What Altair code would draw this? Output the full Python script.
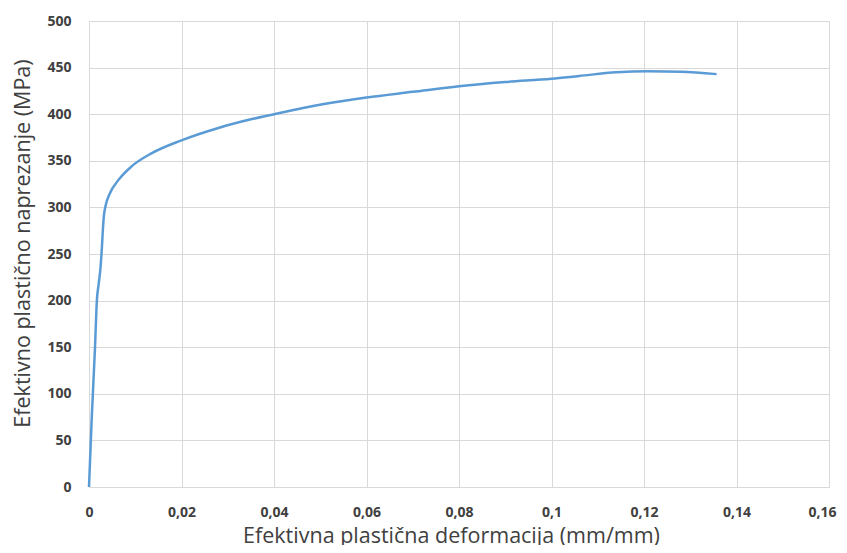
import altair as alt
import pandas as pd

strain = [0, 0.0006, 0.0013, 0.0017, 0.0021, 0.0025, 0.0028, 0.0030, 0.0032,
          0.0036, 0.0045, 0.0063, 0.0092, 0.0135, 0.0200, 0.0278, 0.0350,
          0.0400, 0.0508, 0.0600, 0.0700, 0.0800, 0.0900, 0.1000, 0.1060,
          0.1140, 0.1210, 0.1280, 0.1357]
stress = [0, 75, 150, 200, 218, 236, 258, 276, 290,
          302, 315, 329, 344, 358, 372, 385, 394.5,
          400, 411, 418, 424, 430, 434.5, 438, 441,
          445, 446, 445.5, 443]

x_ticks = [0, 0.02, 0.04, 0.06, 0.08, 0.1, 0.12, 0.14, 0.16]
y_ticks = [0, 50, 100, 150, 200, 250, 300, 350, 400, 450, 500]

df = pd.DataFrame({"strain": strain, "stress": stress})

FONT = "Open Sans"
TXT = "#404040"

chart = alt.Chart(df).mark_line(
    color="#5b9bd5", strokeWidth=2.5, interpolate="monotone"
).encode(
    x=alt.X("strain:Q",
            scale=alt.Scale(domain=[0, 0.16], nice=False, zero=True),
            axis=alt.Axis(values=x_ticks,
                          labelExpr="replace(format(datum.value, '~g'), '.', ',')",
                          labelOffset={"condition": {"test": "datum.value >= 0.159", "value": -7},
                                       "value": 0},
                          title="Efektivna plastična deformacija (mm/mm)",
                          titleFontSize=21.5, titleFontWeight="normal", titleFont=FONT,
                          titleColor=TXT, titlePadding=23, titleBaseline="alphabetic",
                          titleX=362,
                          labelFont=FONT, labelFontSize=14, labelFontWeight="bold",
                          labelColor=TXT, labelPadding=18,
                          ticks=False, domain=False,
                          grid=True, gridColor="#d9d9d9", gridWidth=1,
                          labelFlush=False)),
    y=alt.Y("stress:Q",
            scale=alt.Scale(domain=[0, 500], nice=False),
            axis=alt.Axis(values=y_ticks,
                          title="Efektivno plastično naprezanje (MPa)",
                          titleFontSize=21.5, titleFontWeight="normal", titleFont=FONT,
                          titleColor=TXT, titlePadding=12,
                          titleY=222,
                          labelFont=FONT, labelFontSize=14, labelFontWeight="bold",
                          labelColor=TXT, labelPadding=18,
                          ticks=False, domain=False,
                          grid=True, gridColor="#d9d9d9", gridWidth=1,
                          labelFlush=False)),
).properties(
    width=740,
    height=466,
    autosize=alt.AutoSizeParams(type="none"),
    padding={"left": 81, "top": 13, "right": 10, "bottom": 58},
).configure_view(stroke=None).configure(background="white")

chart.save("out.html", embed_options={"renderer": "svg", "actions": False})
